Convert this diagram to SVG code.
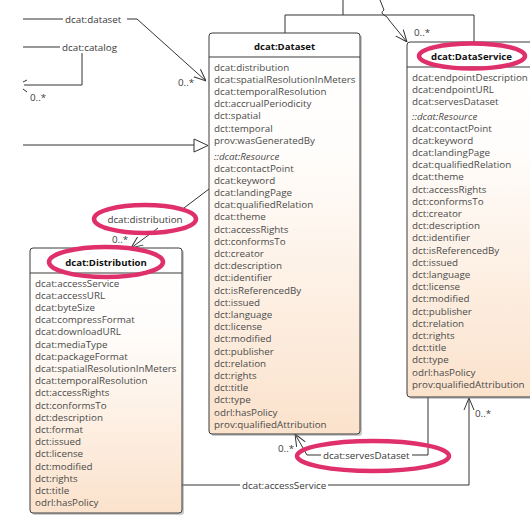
<svg xmlns="http://www.w3.org/2000/svg" width="530" height="516" viewBox="0 0 530 516">
<style>
.box{fill:url(#g);stroke:#3a3a3a;stroke-width:1}
.sh{fill:#8a8a8a;opacity:0.45}
.sep{stroke:#3a3a3a;stroke-width:1}
.t{font-family:"Open Sans","Liberation Sans",sans-serif;font-size:9.8px;fill:#4a4a4a}
.ti{font-style:italic}
.h{font-family:"Open Sans","Liberation Sans",sans-serif;font-size:9.6px;font-weight:bold;fill:#111;text-anchor:middle}
.l{font-family:"Open Sans","Liberation Sans",sans-serif;font-size:9.8px;fill:#3a3a3a}
.c{fill:none;stroke:#333;stroke-width:1}
.hl{fill:none;stroke:#e0306b;stroke-width:4.5}
</style>
<defs>
<linearGradient id="g" x1="0" y1="0" x2="0" y2="1">
<stop offset="0" stop-color="#ffffff"/>
<stop offset="0.3" stop-color="#fffdfb"/>
<stop offset="1" stop-color="#fbe2cc"/>
</linearGradient>
<marker id="arr" viewBox="0 0 12 12" refX="12" refY="6" markerWidth="12" markerHeight="12" markerUnits="userSpaceOnUse" orient="auto">
<path d="M0,1 L12,6 L0,11" fill="none" stroke="#333" stroke-width="1"/>
</marker>
</defs>
<rect width="530" height="516" fill="#ffffff"/>

<g id="connectors">
<path class="c" d="M23,19 H63"/>
<path class="c" d="M127,19 H137 L206,81" marker-end="url(#arr)"/>
<path class="c" d="M23,47 H60"/>
<path class="c" d="M82,53 V85 H24"/>
<path class="c" d="M23,82 L27,80 M23,89 L27,92"/>
<path class="c" d="M23,145 H194"/>
<polygon points="194,139 208,145.5 194,152" fill="#ffffff" stroke="#333" stroke-width="1"/>
<path class="c" d="M209,189 L180,211"/>
<path class="c" d="M158,228 L131,248" marker-end="url(#arr)"/>
<path class="c" d="M428,397 V455 H412"/>
<path class="c" d="M321,455 H307 L295,434" marker-end="url(#arr)"/>
<path class="c" d="M182,485 H240"/>
<path class="c" d="M328,485 H469 V398" marker-end="url(#arr)"/>
<path class="c" d="M343,0 V15"/>
<path class="c" d="M285,33 V15 H474 V42"/>
<path class="c" d="M380,0 L384,10 Q380,13 384,15 Q388,17 389,20 L407,42" marker-end="url(#arr)"/>
<text class="l" x="65" y="22.5">dcat:dataset</text>
<text class="l" x="62" y="50.5">dcat:catalog</text>
<text class="l" x="30" y="101">0..*</text>
<text class="l" x="178" y="85.5">0..*</text>
<text class="l" x="145" y="222.5" text-anchor="middle">dcat:distribution</text>
<text class="l" x="112" y="243">0..*</text>
<text class="l" x="323" y="459">dcat:servesDataset</text>
<text class="l" x="278" y="451.5">0..*</text>
<text class="l" x="242" y="488.5">dcat:accessService</text>
<text class="l" x="475" y="416.5">0..*</text>
<text class="l" x="414" y="35.5">0..*</text>
</g>

<g id="dataset">
<rect class="sh" x="211" y="35" width="151" height="401" rx="3"/>
<rect class="box" x="209" y="33" width="151" height="401" rx="3"/>
<line class="sep" x1="209" y1="57" x2="360" y2="57"/>
<text class="h" x="284.5" y="50">dcat:Dataset</text>
<text class="t" x="214" y="70.5">dcat:distribution</text>
<text class="t" x="214" y="82.7">dcat:spatialResolutionInMeters</text>
<text class="t" x="214" y="94.9">dcat:temporalResolution</text>
<text class="t" x="214" y="107.1">dct:accrualPeriodicity</text>
<text class="t" x="214" y="119.3">dct:spatial</text>
<text class="t" x="214" y="131.5">dct:temporal</text>
<text class="t" x="214" y="143.7">prov:wasGeneratedBy</text>
<text class="t ti" x="214" y="159.5">::dcat:Resource</text>
<text class="t" x="214" y="171.5">dcat:contactPoint</text>
<text class="t" x="214" y="183.7">dcat:keyword</text>
<text class="t" x="214" y="195.9">dcat:landingPage</text>
<text class="t" x="214" y="208.1">dcat:qualifiedRelation</text>
<text class="t" x="214" y="220.3">dcat:theme</text>
<text class="t" x="214" y="232.5">dct:accessRights</text>
<text class="t" x="214" y="244.7">dct:conformsTo</text>
<text class="t" x="214" y="256.9">dct:creator</text>
<text class="t" x="214" y="269.1">dct:description</text>
<text class="t" x="214" y="281.3">dct:identifier</text>
<text class="t" x="214" y="293.5">dct:isReferencedBy</text>
<text class="t" x="214" y="305.7">dct:issued</text>
<text class="t" x="214" y="317.9">dct:language</text>
<text class="t" x="214" y="330.1">dct:license</text>
<text class="t" x="214" y="342.3">dct:modified</text>
<text class="t" x="214" y="354.5">dct:publisher</text>
<text class="t" x="214" y="366.7">dct:relation</text>
<text class="t" x="214" y="378.9">dct:rights</text>
<text class="t" x="214" y="391.1">dct:title</text>
<text class="t" x="214" y="403.3">dct:type</text>
<text class="t" x="214" y="415.5">odrl:hasPolicy</text>
<text class="t" x="214" y="427.7">prov:qualifiedAttribution</text>
</g>

<g id="dataservice">
<rect class="sh" x="409" y="44" width="129" height="355" rx="3"/>
<rect class="box" x="407" y="42" width="129" height="355" rx="3"/>
<line class="sep" x1="407" y1="67" x2="536" y2="67"/>
<text class="h" x="471.5" y="59.5">dcat:DataService</text>
<text class="t" x="412" y="80.5">dcat:endpointDescription</text>
<text class="t" x="412" y="92.6">dcat:endpointURL</text>
<text class="t" x="412" y="104.7">dcat:servesDataset</text>
<text class="t ti" x="412" y="119.5">::dcat:Resource</text>
<text class="t" x="412" y="131.5">dcat:contactPoint</text>
<text class="t" x="412" y="143.7">dcat:keyword</text>
<text class="t" x="412" y="155.9">dcat:landingPage</text>
<text class="t" x="412" y="168.1">dcat:qualifiedRelation</text>
<text class="t" x="412" y="180.3">dcat:theme</text>
<text class="t" x="412" y="192.5">dct:accessRights</text>
<text class="t" x="412" y="204.7">dct:conformsTo</text>
<text class="t" x="412" y="216.9">dct:creator</text>
<text class="t" x="412" y="229.1">dct:description</text>
<text class="t" x="412" y="241.3">dct:identifier</text>
<text class="t" x="412" y="253.5">dct:isReferencedBy</text>
<text class="t" x="412" y="265.7">dct:issued</text>
<text class="t" x="412" y="277.9">dct:language</text>
<text class="t" x="412" y="290.1">dct:license</text>
<text class="t" x="412" y="302.3">dct:modified</text>
<text class="t" x="412" y="314.5">dct:publisher</text>
<text class="t" x="412" y="326.7">dct:relation</text>
<text class="t" x="412" y="338.9">dct:rights</text>
<text class="t" x="412" y="351.1">dct:title</text>
<text class="t" x="412" y="363.3">dct:type</text>
<text class="t" x="412" y="375.5">odrl:hasPolicy</text>
<text class="t" x="412" y="387.7">prov:qualifiedAttribution</text>
</g>

<g id="distribution">
<rect class="sh" x="32" y="250" width="152" height="265" rx="3"/>
<rect class="box" x="30" y="248" width="152" height="265" rx="3"/>
<line class="sep" x1="30" y1="273" x2="182" y2="273"/>
<text class="h" x="106" y="265.5">dcat:Distribution</text>
<text class="t" x="35" y="286.5">dcat:accessService</text>
<text class="t" x="35" y="298.7">dcat:accessURL</text>
<text class="t" x="35" y="310.9">dcat:byteSize</text>
<text class="t" x="35" y="323.1">dcat:compressFormat</text>
<text class="t" x="35" y="335.3">dcat:downloadURL</text>
<text class="t" x="35" y="347.5">dcat:mediaType</text>
<text class="t" x="35" y="359.7">dcat:packageFormat</text>
<text class="t" x="35" y="371.9">dcat:spatialResolutionInMeters</text>
<text class="t" x="35" y="384.1">dcat:temporalResolution</text>
<text class="t" x="35" y="396.3">dct:accessRights</text>
<text class="t" x="35" y="408.5">dct:conformsTo</text>
<text class="t" x="35" y="420.7">dct:description</text>
<text class="t" x="35" y="432.9">dct:format</text>
<text class="t" x="35" y="445.1">dct:issued</text>
<text class="t" x="35" y="457.3">dct:license</text>
<text class="t" x="35" y="469.5">dct:modified</text>
<text class="t" x="35" y="481.7">dct:rights</text>
<text class="t" x="35" y="493.9">dct:title</text>
<text class="t" x="35" y="506.1">odrl:hasPolicy</text>
</g>

<g id="highlights">
<ellipse class="hl" cx="472" cy="56" rx="53" ry="12.5"/>
<ellipse class="hl" cx="145" cy="219" rx="51" ry="14"/>
<ellipse class="hl" cx="106" cy="262" rx="57" ry="15"/>
<ellipse class="hl" cx="373" cy="456" rx="76" ry="15"/>
</g>
</svg>
